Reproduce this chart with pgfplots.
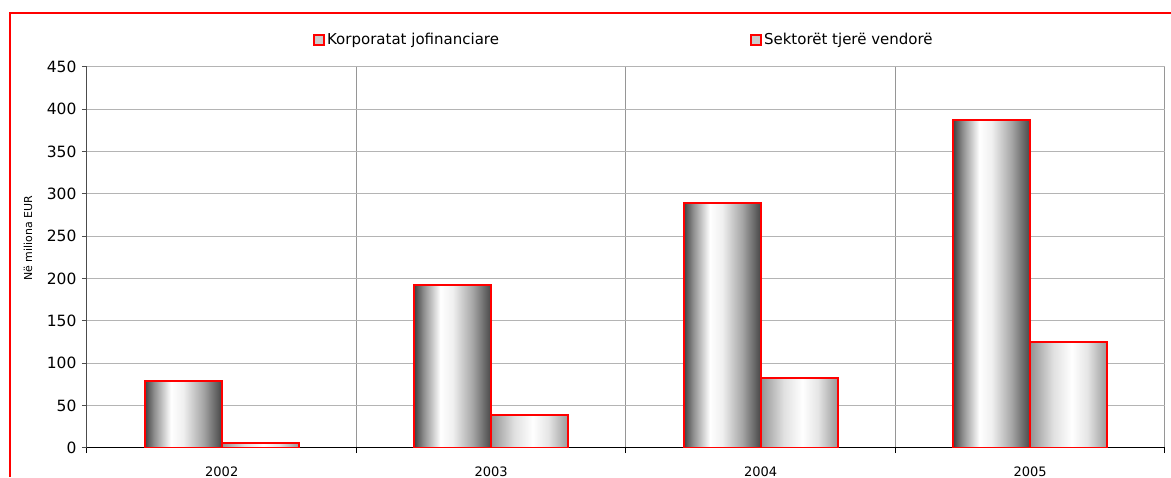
\documentclass[border=0pt]{standalone}
\usepackage{pgfplots}
\pgfplotsset{compat=1.18}
\usepackage{fontspec}
\setmainfont{DejaVu Sans}
\definecolor{gridA}{HTML}{B4B4B4}
\definecolor{gridB}{HTML}{969696}
% bar shadings, dark edges and a white streak
\pgfdeclarehorizontalshading{barA}{100bp}{color(0bp)=(black!75); color(25bp)=(black!75); color(31bp)=(black!45); color(42bp)=(white); color(50bp)=(black!6); color(63bp)=(black!35); color(75bp)=(black!72); color(100bp)=(black!72)}
\pgfdeclarehorizontalshading{barB}{100bp}{color(0bp)=(black!42); color(25bp)=(black!42); color(40bp)=(black!12); color(52bp)=(white); color(62bp)=(black!10); color(75bp)=(black!40); color(100bp)=(black!40)}

\begin{document}
\begin{tikzpicture}[x=1pt,y=1pt]
\useasboundingbox (0,0) rectangle (1171,477);
\draw[red, line width=1.5pt] (10,0) -- (10,464) -- (1171,464);
\begin{axis}[
    at={(87pt,29pt)}, anchor=south west,
    scale only axis, width=1078pt, height=381pt,
    ybar=0pt, bar width=0.286,
    xmin=-0.5, xmax=3.5, ymin=0, ymax=450,
    ytick={0,50,...,450},
    xtick={0,1,2,3}, xticklabels={2002,2003,2004,2005},
    minor xtick={-0.5,0.5,1.5,2.5,3.5},
    xminorgrids=true, ymajorgrids=true, xmajorgrids=false,
    major grid style={gridA, line width=1pt},
    minor grid style={gridB, line width=1pt},
    axis x line*=bottom, axis y line*=left,
    x axis line style={-, black, line width=1pt},
    y axis line style={-, black!70, line width=1pt},
    tick align=outside, major tick length=5pt, minor tick length=5pt,
    every major x tick/.style={draw=none},
    every minor x tick/.style={black, line width=1pt},
    ytick style={black!70, line width=1pt},
    /pgf/number format/assume math mode=true,
    yticklabel style={font=\fontsize{15.5}{17}\selectfont, black, xshift=-2pt},
    xticklabel style={font=\fontsize{13}{15}\selectfont, black, yshift=-10pt},
    ylabel={Në miliona EUR},
    ylabel style={font=\fontsize{11}{13}\selectfont, at={(axis description cs:-0.0547,0.55)}, anchor=center},
    legend columns=2,
    legend style={at={(axis description cs:0.2096,1.071)}, anchor=west, draw=none, fill=none, inner sep=0pt,
        font=\fontsize{15}{17}\selectfont,
        /tikz/every even column/.append style={column sep=249pt}},
    legend image code/.code={\draw[red, line width=2pt, fill=black!20] (0pt,-5pt) rectangle (10pt,5pt);},
    sA/.style={draw=red, line width=2pt, shading=barA, bar shift=-0.143, forget plot},
    sB/.style={draw=red, line width=2pt, shading=barB, bar shift=0.143, forget plot},
]
% Korporatat jofinanciare
\addplot[sA] coordinates {(0,79)};
\addplot[sA] coordinates {(1,192.5)};
\addplot[sA] coordinates {(2,289)};
\addplot[sA] coordinates {(3,387)};
% Sektoret tjere vendore
\addplot[sB] coordinates {(0,6)};
\addplot[sB] coordinates {(1,39)};
\addplot[sB] coordinates {(2,83)};
\addplot[sB] coordinates {(3,125.5)};
\addlegendimage{draw=red}
\addlegendimage{draw=red}
\legend{Korporatat jofinanciare, Sektorët tjerë vendorë}
\end{axis}
\end{tikzpicture}
\end{document}
